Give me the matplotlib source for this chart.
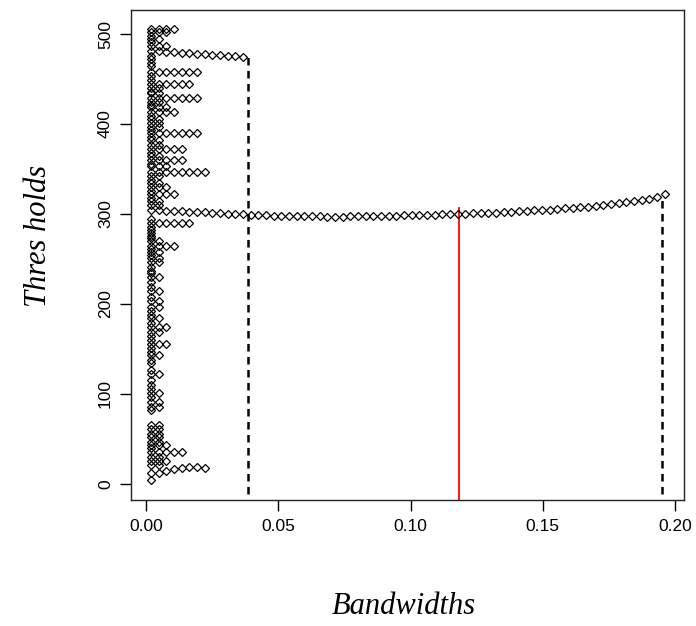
import matplotlib
matplotlib.use("Agg")
import matplotlib.pyplot as plt

# bandwidth grid
bandwidths = [0.0018, 0.0047, 0.0076, 0.0105, 0.0134, 0.0163, 0.0192, 0.0221, 0.0250, 0.0279,
              0.0308, 0.0337, 0.0366, 0.0395, 0.0424, 0.0453, 0.0482, 0.0511, 0.0540, 0.0569,
              0.0598, 0.0627, 0.0656, 0.0685, 0.0714, 0.0743, 0.0772, 0.0801, 0.0830, 0.0859,
              0.0888, 0.0917, 0.0946, 0.0975, 0.1004, 0.1033, 0.1062, 0.1091, 0.1120, 0.1149,
              0.1178, 0.1207, 0.1236, 0.1265, 0.1294, 0.1323, 0.1352, 0.1381, 0.1410, 0.1439,
              0.1468, 0.1497, 0.1526, 0.1555, 0.1584, 0.1613, 0.1642, 0.1671, 0.1700, 0.1729,
              0.1758, 0.1787, 0.1816, 0.1845, 0.1874, 0.1903, 0.1932, 0.1961]

# short rows: threshold and how many bandwidths (from the smallest) reach it
row_thresholds = [506, 502, 498, 495, 491, 487, 476, 472, 468, 464, 458, 453, 449, 445, 440,
                  436, 434, 429, 425, 421, 419, 413, 409, 406, 401, 397, 393, 390, 386, 382,
                  377, 372, 368, 364, 360, 356, 353, 347, 342, 338, 334, 330, 326, 322, 318,
                  315, 310, 295, 290, 286, 282, 279, 276, 273, 270, 264, 261, 258, 254, 251,
                  247, 241, 237, 234, 230, 225, 219, 214, 208, 203, 197, 192, 188, 184, 179,
                  174, 169, 164, 160, 156, 151, 147, 143, 138, 134, 127, 122, 116, 110, 105,
                  101, 97, 91, 86, 82, 66, 61, 56, 52, 47, 43, 40, 35, 30, 26, 21, 4]
row_counts = [4, 3, 1, 2, 1, 3, 1, 1, 1, 1, 7, 1, 1, 6, 2,
              1, 2, 7, 2, 1, 3, 4, 1, 2, 2, 2, 1, 7, 1, 2,
              2, 5, 1, 2, 5, 1, 3, 8, 2, 1, 2, 3, 1, 4, 1,
              2, 2, 1, 6, 1, 1, 1, 1, 1, 2, 4, 1, 2, 1, 2,
              2, 1, 1, 1, 2, 1, 1, 2, 1, 2, 2, 1, 1, 2, 1,
              3, 2, 1, 1, 3, 1, 1, 2, 1, 1, 1, 2, 1, 1, 1,
              2, 1, 2, 2, 1, 2, 2, 2, 2, 2, 3, 1, 5, 2, 3, 2, 1]

# longer rows that drift with bandwidth
upper_row = [481, 481, 480.5, 480, 479, 478.5, 478, 477.5, 477, 476.5, 476, 475.5, 475]
lower_row = [12, 12.6, 14.4, 16.3, 17.8, 18.9, 18.9, 18.1]
main_row = [304, 304, 303.5, 303, 303, 302.5, 302, 302, 301.5, 301,
            300.5, 300, 299.5, 299, 298.5, 298.5, 298, 298, 297.8, 297.6,
            297.5, 297.4, 297.3, 297.2, 297.2, 297.2, 297.3, 297.4, 297.5, 297.6,
            297.8, 298, 298.2, 298.4, 298.6, 298.8, 299, 299.2, 299.5, 299.8,
            300, 300.3, 300.6, 301, 301.3, 301.6, 302, 302.5, 303, 303.5,
            304, 304.5, 305, 305.6, 306.2, 306.8, 307.5, 308.3, 309.1, 310,
            311, 312, 313, 314.2, 315.5, 317, 319, 322]

# reference lines: (bandwidth, top threshold)
dashed_lines = [(0.0385, 474), (0.1949, 320)]
red_line = (0.1183, 307)

xs, ys = [], []
for t, n in zip(row_thresholds, row_counts):
    xs += bandwidths[:n]
    ys += [t] * n
for row in (upper_row, lower_row, main_row):
    xs += bandwidths[:len(row)]
    ys += row

fig = plt.figure(figsize=(6.96, 6.26), dpi=100)
ax = fig.add_axes([131 / 696, 126 / 626, 553 / 696, 490 / 626])

ax.plot(xs, ys, linestyle="none", marker="D", markersize=3.9,
        markerfacecolor="none", markeredgecolor="black", markeredgewidth=0.9)

for bx, top in dashed_lines:
    ax.plot([bx, bx], [-40, top], color="black", linewidth=1.8,
            dashes=(3, 2.2), zorder=1)
ax.plot([red_line[0], red_line[0]], [-40, red_line[1]], color="red",
        linewidth=1.3, zorder=1)

ax.set_xlim(-0.00579, 0.2034)
ax.set_ylim(-17.8, 526.7)
ax.set_xticks([0.0, 0.05, 0.10, 0.15, 0.20])
ax.set_xticklabels(["0.00", "0.05", "0.10", "0.15", "0.20"])
ax.set_yticks([0, 100, 200, 300, 400, 500])
for lab in ax.get_yticklabels():
    lab.set_rotation(90)
    lab.set_va("center")
ax.tick_params(direction="out", length=8, width=1, labelsize=12.5, pad=6,
               colors="black")
ax.tick_params(axis="y", pad=5)
for sp in ax.spines.values():
    sp.set_linewidth(1)
    sp.set_color("#222222")
for lab in ax.get_xticklabels() + ax.get_yticklabels():
    lab.set_family("Liberation Sans")

fig.text(404 / 696, 1 - 607 / 626, "Bandwidths", ha="center", va="center",
         family="Liberation Serif", style="italic", fontsize=22)
fig.text(38 / 696, 1 - 236 / 626, "Thres holds", ha="center", va="center",
         rotation=90, family="Liberation Serif", style="italic", fontsize=22)

fig.savefig("out.png", dpi=100)
